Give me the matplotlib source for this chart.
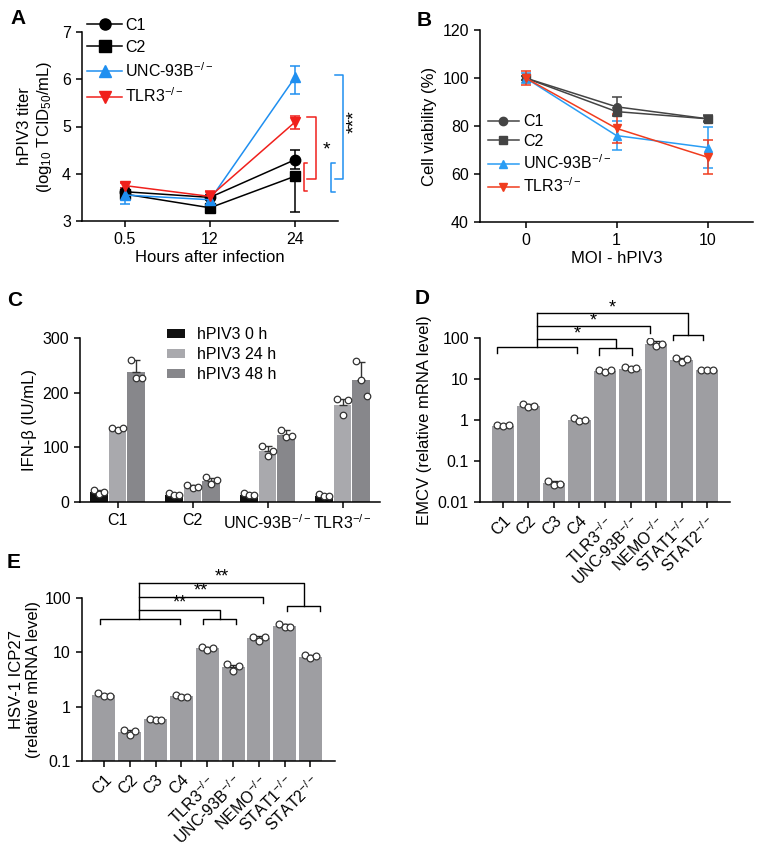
import matplotlib
matplotlib.use('Agg')
import matplotlib.pyplot as plt
from matplotlib.lines import Line2D
import numpy as np

plt.rcParams['font.family'] = ['Liberation Sans', 'DejaVu Sans']
plt.rcParams['mathtext.fontset'] = 'custom'
plt.rcParams['mathtext.rm'] = 'Liberation Sans'
plt.rcParams['mathtext.it'] = 'Liberation Sans:italic'
plt.rcParams['mathtext.bf'] = 'Liberation Sans:bold'
plt.rcParams['axes.linewidth'] = 1.1
plt.rcParams['xtick.major.width'] = 1.1
plt.rcParams['ytick.major.width'] = 1.1
plt.rcParams['xtick.major.size'] = 4.5
plt.rcParams['ytick.major.size'] = 4.5
plt.rcParams['xtick.labelsize'] = 11.5
plt.rcParams['ytick.labelsize'] = 11.5

KO = r'$^{-/-}$'

# ---------------- Panel A data ----------------
a_xlabels = ['0.5', '12', '24']
a_names = ['C1', 'C2', 'UNC-93B' + KO, 'TLR3' + KO]
a_c1 = [3.62, 3.50, 4.30]
a_c2 = [3.57, 3.28, 3.95]
a_unc = [3.55, 3.45, 6.05]
a_tlr3 = [3.75, 3.52, 5.10]
a_c1_lo = [0.08, 0.05, 0.20]; a_c1_hi = [0.08, 0.05, 0.20]
a_c2_lo = [0.10, 0.04, 0.75]; a_c2_hi = [0.05, 0.04, 0.00]
a_unc_lo = [0.20, 0.10, 0.37]; a_unc_hi = [0.15, 0.10, 0.23]
a_tlr3_lo = [0.06, 0.06, 0.15]; a_tlr3_hi = [0.06, 0.12, 0.13]

# ---------------- Panel B data ----------------
b_xlabels = ['0', '1', '10']
b_c1 = [100, 88, 83]
b_c2 = [100, 86, 83]
b_unc = [100, 76, 71]
b_tlr3 = [100, 79, 67]
b_c1_err = [1.0, 4.0, 1.0]
b_c2_err = [1.0, 1.5, 1.5]
b_unc_err = [2.0, 6.0, 8.5]
b_tlr3_err = [3.0, 6.0, 7.0]

# ---------------- Panel C data ----------------
c_groups = ['C1', 'C2', 'UNC-93B' + KO, 'TLR3' + KO]
c_series = ['hPIV3 0 h', 'hPIV3 24 h', 'hPIV3 48 h']
c_0h = [18, 13, 13, 11]
c_24h = [133, 28, 93, 177]
c_48h = [237, 38, 122, 224]
c_0h_err = [4, 2, 2, 2]
c_24h_err = [2, 3, 10, 12]
c_48h_err = [22, 6, 10, 33]
c_0h_pts = [[22, 14, 19], [16, 12, 12], [16, 12, 12], [14, 11, 11]]
c_24h_pts = [[135, 132, 135], [31, 26, 27], [103, 85, 94], [188, 160, 186]]
c_48h_pts = [[260, 226, 226], [45, 33, 40], [132, 119, 120], [258, 223, 193]]

# ---------------- Panel D data ----------------
de_labels = ['C1', 'C2', 'C3', 'C4', 'TLR3' + KO, 'UNC-93B' + KO,
             'NEMO' + KO, 'STAT1' + KO, 'STAT2' + KO]
d_vals = [0.73, 2.25, 0.028, 1.0, 16, 18, 72, 30, 16.5]
d_err = [0.04, 0.25, 0.004, 0.08, 1.2, 1.5, 12, 3, 0.3]
d_pts = [[0.76, 0.72, 0.74], [2.5, 2.1, 2.2], [0.033, 0.026, 0.027],
         [1.1, 0.97, 0.98], [17, 15.2, 16.8], [20, 18, 19],
         [86, 66, 72], [33, 27, 31], [16.6, 16.4, 16.6]]

# ---------------- Panel E data ----------------
e_vals = [1.62, 0.34, 0.58, 1.55, 12, 5.3, 18.5, 31, 8.4]
e_err = [0.1, 0.03, 0.02, 0.08, 0.6, 0.6, 1.2, 2.5, 0.4]
e_pts = [[1.75, 1.55, 1.58], [0.37, 0.30, 0.35], [0.60, 0.57, 0.57],
         [1.65, 1.50, 1.50], [12.5, 11, 12], [6.0, 4.5, 5.6],
         [19.5, 16.5, 19], [34, 30, 30], [8.8, 7.8, 8.6]]

W, H = 762, 848
fig = plt.figure(figsize=(W / 100, H / 100), dpi=100)


def rect(l, r, t, b):
    return [l / W, 1 - b / H, (r - l) / W, (b - t) / H]


def style(ax):
    ax.spines['top'].set_visible(False)
    ax.spines['right'].set_visible(False)


# ================= Panel A =================
axA = fig.add_axes(rect(82, 338, 32, 221))
style(axA)
x = np.arange(3)
blue = '#1f8ff0'
red = '#f0201c'
a_specs = [(a_c1, a_c1_lo, a_c1_hi, 'o', 'black'),
           (a_c2, a_c2_lo, a_c2_hi, 's', 'black'),
           (a_unc, a_unc_lo, a_unc_hi, '^', blue),
           (a_tlr3, a_tlr3_lo, a_tlr3_hi, 'v', red)]
handlesA = []
for (vals, lo, hi, m, c), name in zip(a_specs, a_names):
    axA.errorbar(x, vals, yerr=[lo, hi], marker=m, color=c, ms=7.5, lw=1.1,
                 capsize=3.5, elinewidth=1.1, capthick=1.1)
    handlesA.append(Line2D([], [], marker=m, color=c, ms=8, lw=1.1, label=name))
axA.set_xlim(-0.5, 2.5)
axA.set_ylim(3, 7)
axA.set_yticks([3, 4, 5, 6, 7])
axA.set_xticks(x)
axA.set_xticklabels(a_xlabels)
axA.set_xlabel('Hours after infection', fontsize=12, labelpad=2)
axA.set_ylabel('hPIV3 titer\n(log$_{10}$ TCID$_{50}$/mL)', fontsize=12, labelpad=6)
axA.legend(handles=handlesA, loc='upper left', bbox_to_anchor=(0.02, 1.075),
           frameon=False, fontsize=11.5, handlelength=2.2, handletextpad=0.2,
           labelspacing=0.42, borderpad=0, borderaxespad=0)


def bracket_a(ax, xv, xt, y0, y1, color):
    ax.plot([xt, xv, xv, xt], [y0, y0, y1, y1], color=color, lw=1.1, clip_on=False)


bracket_a(axA, 2.10, 2.14, 4.23, 3.64, red)
bracket_a(axA, 2.245, 2.14, 5.21, 3.88, red)
bracket_a(axA, 2.42, 2.46, 4.23, 3.61, blue)
bracket_a(axA, 2.56, 2.46, 6.09, 3.89, blue)
axA.text(2.37, 4.5, '*', fontsize=14, ha='center', va='center', clip_on=False)
axA.text(2.69, 5.1, '***', fontsize=14, ha='center', va='center', rotation=90,
         clip_on=False)
fig.text(10 / W, 1 - 19 / H, 'A', fontsize=15, fontweight='bold', va='center')

# ================= Panel B =================
axB = fig.add_axes(rect(480, 753, 30, 222))
style(axB)
grey = '#444444'
blueB = '#2a9df4'
redB = '#f03c1e'
b_specs = [(b_c1, b_c1_err, 'o', grey, 'C1'),
           (b_c2, b_c2_err, 's', grey, 'C2'),
           (b_unc, b_unc_err, '^', blueB, 'UNC-93B' + KO),
           (b_tlr3, b_tlr3_err, 'v', redB, 'TLR3' + KO)]
handlesB = []
for vals, err, m, c, name in b_specs:
    axB.errorbar(x, vals, yerr=err, marker=m, color=c, ms=5.5, lw=1.1,
                 capsize=3.5, elinewidth=1.1, capthick=1.1)
    handlesB.append(Line2D([], [], marker=m, color=c, ms=6, lw=1.1, label=name))
axB.set_xlim(-0.5, 2.5)
axB.set_ylim(40, 120)
axB.set_yticks([40, 60, 80, 100, 120])
axB.set_xticks(x)
axB.set_xticklabels(b_xlabels)
axB.set_xlabel('MOI - hPIV3', fontsize=12, labelpad=2)
axB.set_ylabel('Cell viability (%)', fontsize=12, labelpad=4)
axB.legend(handles=handlesB, loc='upper left', bbox_to_anchor=(0.03, 0.56),
           frameon=False, fontsize=11.5, handlelength=1.9, handletextpad=0.3,
           labelspacing=0.28, borderpad=0, borderaxespad=0)
fig.text(417 / W, 1 - 20 / H, 'B', fontsize=15, fontweight='bold', va='center')

# ================= Panel C =================
axC = fig.add_axes(rect(80, 380, 338, 502))
style(axC)
gx = np.arange(4)
bw = 0.235
c_colors = ['#111111', '#a9a9ad', '#87878b']
c_data = [(c_0h, c_0h_err, c_0h_pts), (c_24h, c_24h_err, c_24h_pts),
          (c_48h, c_48h_err, c_48h_pts)]
for k, ((vals, err, pts), col, lab) in enumerate(zip(c_data, c_colors, c_series)):
    xs = gx + (k - 1) * 0.25
    axC.bar(xs, vals, width=bw, color=col, label=lab, zorder=1)
    axC.errorbar(xs, vals, yerr=[np.zeros(4), err], fmt='none', ecolor='#333333',
                 capsize=3, elinewidth=1.0, capthick=1.0, zorder=2)
    for i in range(4):
        axC.scatter(xs[i] + np.array([-0.07, 0.0, 0.07]), pts[i], s=22,
                    facecolor='white', edgecolor='#333333', linewidths=0.9, zorder=3)
axC.set_xlim(-0.5, 3.5)
axC.set_ylim(0, 300)
axC.set_yticks([0, 100, 200, 300])
axC.set_xticks(gx)
axC.set_xticklabels(c_groups)
axC.set_ylabel('IFN-β (IU/mL)', fontsize=12, labelpad=4)
axC.legend(loc='upper left', bbox_to_anchor=(0.29, 1.065), frameon=False,
           fontsize=11.5, handlelength=1.1, handleheight=0.45, handletextpad=0.8,
           labelspacing=0.3, borderpad=0, borderaxespad=0)
fig.text(7 / W, 1 - 301 / H, 'C', fontsize=15, fontweight='bold', va='center')

barcol = '#9e9ea2'
offs = np.array([-0.22, 0.0, 0.22])


def bar_panel(ax, vals, err, pts, ylim):
    xi = np.arange(len(vals))
    ax.bar(xi, vals, width=0.89, color=barcol, zorder=1)
    ax.errorbar(xi, vals, yerr=[np.zeros(len(vals)), err], fmt='none',
                ecolor='#222222', capsize=3, elinewidth=1.0, capthick=1.0, zorder=2)
    for i in range(len(vals)):
        ax.scatter(xi[i] + offs, pts[i], s=24, facecolor='white',
                   edgecolor='#333333', linewidths=0.9, zorder=3)
    ax.set_yscale('log')
    ax.set_ylim(*ylim)
    ax.set_xticks(xi)
    ax.set_xticklabels(de_labels, rotation=45, ha='right', rotation_mode='anchor')
    ax.tick_params(axis='x', pad=4)
    ax.minorticks_off()


def sig_lines(ax, xc, b1, b2, b3, lines, stars, label):
    kw = dict(color='black', lw=1.0, clip_on=False)
    for (xa, xb, yb, yt) in (b1, b2, b3):
        ax.plot([xa, xa, xb, xb], [yt, yb, yb, yt], **kw)
    ax.plot([xc, xc], [b1[2], lines[-1][0]], **kw)
    for (yl, xr, ydrop) in lines:
        ax.plot([xc, xr, xr], [yl, yl, ydrop], **kw)
    for (xs, ys) in stars:
        ax.text(xs, ys, label, fontsize=13, ha='center', va='center', clip_on=False)


# ================= Panel D =================
axD = fig.add_axes(rect(480, 730, 338.3, 501.7))
style(axD)
bar_panel(axD, d_vals, d_err, d_pts, (0.01, 100))
axD.set_xlim(-0.9, 8.9)
axD.set_yticks([0.01, 0.1, 1, 10, 100])
axD.set_yticklabels(['0.01', '0.1', '1', '10', '100'])
axD.set_ylabel('EMCV (relative mRNA level)', fontsize=12, labelpad=4)
sig_lines(axD, 1.35,
          (-0.22, 2.91, 61, 44), (3.78, 5.07, 59, 39), (6.65, 7.83, 120, 91),
          [(96, 4.43, 59), (200, 5.75, 137), (408, 7.24, 120)],
          [(2.9, 128), (3.55, 270), (4.3, 560)], '*')
fig.text(415 / W, 1 - 299 / H, 'D', fontsize=15, fontweight='bold', va='center')

# ================= Panel E =================
axE = fig.add_axes(rect(82, 335, 598.3, 760.7))
style(axE)
bar_panel(axE, e_vals, e_err, e_pts, (0.1, 100))
axE.set_xlim(-0.85, 8.95)
axE.set_yticks([0.1, 1, 10, 100])
axE.set_yticklabels(['0.1', '1', '10', '100'])
axE.set_ylabel('HSV-1 ICP27\n(relative mRNA level)', fontsize=12, labelpad=2)
sig_lines(axE, 1.36,
          (-0.16, 2.95, 42, 34), (3.85, 5.12, 42, 34), (7.09, 8.36, 72, 58),
          [(61, 4.48, 42), (106, 6.15, 81), (190, 7.74, 72)],
          [(2.92, 82), (3.76, 134), (4.55, 246)], '**')
fig.text(7 / W, 1 - 563 / H, 'E', fontsize=15, fontweight='bold', va='center')

fig.savefig('out.png', dpi=100)
